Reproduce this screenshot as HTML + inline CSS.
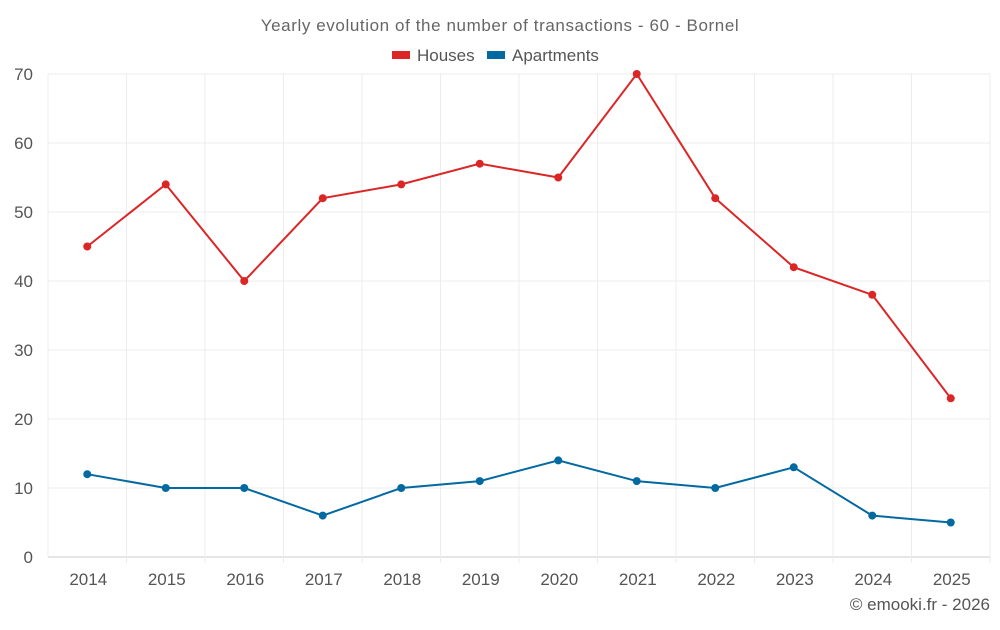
<!DOCTYPE html>
<html><head><meta charset="utf-8"><style>
body{margin:0;background:#fff;font-family:"Liberation Sans",sans-serif;}
svg text{font-family:"Liberation Sans",sans-serif;}
</style></head><body>
<svg id="chart" width="1000" height="625">
<text x="500" y="31" text-anchor="middle" font-size="17" letter-spacing="0.6" fill="#666">Yearly evolution of the number of transactions - 60 - Bornel</text>
<g>
<g><rect x="392" y="51" width="18" height="8" fill="#dc2626"/><text x="417" y="61" font-size="17" fill="#555">Houses</text></g>
<g><rect x="487" y="51" width="18" height="8" fill="#0369a1"/><text x="512" y="61" font-size="17" fill="#555">Apartments</text></g>
</g>
<g id="grid"></g><g id="axes"></g><g id="series"></g>
<text x="990" y="610" text-anchor="end" font-size="17" fill="#555">© emooki.fr - 2026</text>
</svg>
<script>
const years=["2014","2015","2016","2017","2018","2019","2020","2021","2022","2023","2024","2025"];
const houses=[45,54,40,52,54,57,55,70,52,42,38,23];
const apartments=[12,10,10,6,10,11,14,11,10,13,6,5];
const yTicks=[0,10,20,30,40,50,60,70];
const L=48,R=990,T=74,B=557,yMax=70;
const step=(R-L)/years.length;
const x=i=>L+step*(i+0.5);
const y=v=>B-(v/yMax)*(B-T);
const NS="http://www.w3.org/2000/svg";
function mk(tag,attrs,parent){const e=document.createElementNS(NS,tag);for(const k in attrs)e.setAttribute(k,attrs[k]);document.getElementById(parent).appendChild(e);return e;}
yTicks.forEach(t=>{
 const l=mk('line',{x1:L,x2:R,y1:y(t),y2:y(t),stroke:t===0?'#ccc':'#ececec'},'grid');
 
 
 const tx=mk('text',{x:L-15,y:y(t)+6,'text-anchor':'end','font-size':17,fill:'#555'},'axes');tx.textContent=t;
 
 
});
for(let i=0;i<=years.length;i++){
 const l=mk('line',{x1:L+step*i,x2:L+step*i,y1:T,y2:B+(i===0?0:6),stroke:'#ececec'},'grid');
 
 
}
years.forEach((yr,i)=>{
 const tx=mk('text',{x:x(i)+1,y:585,'text-anchor':'middle','font-size':17,fill:'#555'},'axes');tx.textContent=yr;
 
 
});
function series(vals,color,name){
 const p=mk('polyline',{points:vals.map((v,i)=>x(i)+','+y(v)).join(' '),fill:'none',stroke:color,'stroke-width':2},'series');
 
 
 vals.forEach((v,i)=>{
  const c=mk('circle',{cx:x(i),cy:y(v),r:4,fill:color},'series');
  
  
 });
}
series(houses,'#dc2626','houses');
series(apartments,'#0369a1','apartments');
</script>
</body></html>
